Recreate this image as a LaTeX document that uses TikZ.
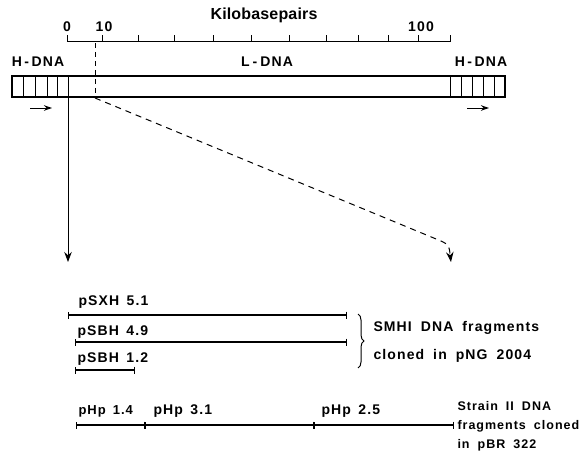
\documentclass[tikz,border=0pt]{standalone}
\usepackage{fontspec}
\setmainfont{Liberation Sans}[LetterSpace=8,WordSpace=1.5]
\newfontfamily\kbfont{Liberation Sans}[LetterSpace=1]
\newfontfamily\smhifont{Liberation Sans}[LetterSpace=8,WordSpace=3]
\newfontfamily\strainfont{Liberation Sans}[LetterSpace=8,WordSpace=1.8]
\usetikzlibrary{arrows.meta,positioning,decorations.pathreplacing}

\begin{document}
\begin{tikzpicture}[x=1pt,y=-1pt,
  >={Stealth[length=10pt,width=7.5pt]}, line width=1pt,
  txt/.style={font=\bfseries\fontsize{14}{16}\selectfont,inner sep=0pt},
  lbl/.style={txt,anchor=base west},
  small/.style={-{Stealth[length=8pt,width=5.5pt]}},
  frag/.style={line width=1.2pt,{Bar[width=7pt]}-{Bar[width=7pt]}},
  hatch/.style={line width=0.9pt},
  cut/.style={dashed,dash pattern=on 6pt off 5pt}]
  \useasboundingbox (0,0) rectangle (584,452);
  % kilobase scale
  \coordinate (s0) at (67,42);
  \coordinate (s1) at (450,42);
  \draw (s0) -- (s1);
  \foreach \t in {67,102,138,174,213,251,289,326,358,388,418,450}
    \draw (\t,42) -- (\t,35);
  \node[txt] (k0) at (67,27) {0};
  \node[txt] (k10) at (104,27) {10};
  \node[txt] (k100) at (421,27) {100};
  \node[txt,font=\kbfont\bfseries\fontsize{16}{18}\selectfont] (kbp) at (264,15) {Kilobasepairs};
  % phage genome
  \node[draw,line width=1.3pt,minimum width=493pt,minimum height=21pt,inner sep=0pt] (bar) at (258.5,86.5) {};
  \foreach \h in {23,35,47,57,68,450,461,472,483,494}
    \draw[hatch] (\h,76) -- (\h,97);
  \node[txt] (hl) at (38,62) {H\kern2.5pt-\kern2.5pt DNA};
  \node[txt] (ld) at (267,62) {L\kern3pt-\kern3pt DNA};
  \node[txt] (hr) at (481,62) {H\kern2.5pt-\kern2.5pt DNA};
  \draw[small] (30,108) -- (52,108);
  \draw[small] (467,108) -- (489,108);
  % cut sites
  \coordinate (cut) at (95,98);
  \draw[dashed,dash pattern=on 5pt off 4pt] (95,43) -- (95,94);
  \coordinate (hlb) at (68,97);
  \coordinate (hle) at (68,262);
  \coordinate (cutend) at (451,262);
  \draw[->] (hlb) -- (hle);
  \draw[cut,->] (cut) -- (441,241) .. controls (449,245) .. (cutend);
  % SMHI fragments
  \coordinate (sxa) at (68,315);  \coordinate (sxb) at (347,315);
  \coordinate (s4a) at (75,342);  \coordinate (s4b) at (347,342);
  \coordinate (s1a) at (75,370);  \coordinate (s1b) at (135,370);
  \draw[frag] (sxa) -- (sxb);
  \draw[frag] (s4a) -- (s4b);
  \draw[frag] (s1a) -- (s1b);
  \node[lbl] (psxh) at (78,305) {pSXH 5.1};
  \node[lbl] (psbh4) at (77,335) {pSBH 4.9};
  \node[lbl] (psbh1) at (77,362) {pSBH 1.2};
  \draw[decorate,decoration={brace,amplitude=6pt}] (358,314) -- (358,368);
  \node[txt,anchor=west,align=left,
    font=\smhifont\bfseries\fontsize{14}{28}\selectfont] (smhi) at (373,342)
    {SMHI DNA fragments\\cloned in pNG 2004};
  % strain II fragments
  \coordinate (hp0) at (76,425);  \coordinate (hp1) at (145,425);
  \coordinate (hp2) at (314,425); \coordinate (hp3) at (454,425);
  \draw[frag] (hp0) -- (hp1);
  \draw[frag] (hp1) -- (hp2);
  \draw[frag] (hp2) -- (hp3);
  \node[lbl,font=\bfseries\fontsize{13}{15}\selectfont] (php1) at (78,414) {pHp 1.4};
  \node[lbl] (php3) at (153,414) {pHp 3.1};
  \node[lbl] (php2) at (321,414) {pHp 2.5};
  \node[txt,anchor=base west,align=left,
    font=\strainfont\bfseries\fontsize{12.5}{19}\selectfont] (strain) at (457,448)
    {Strain II DNA\\fragments cloned\\in pBR 322};
\end{tikzpicture}
\end{document}
